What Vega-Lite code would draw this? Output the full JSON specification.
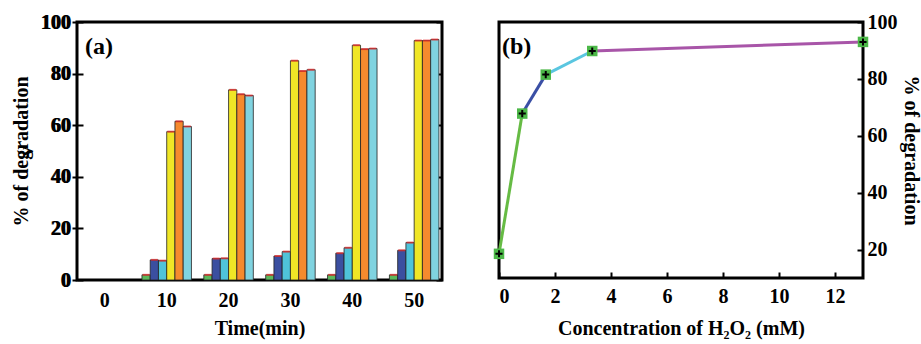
{
  "$schema": "https://vega.github.io/schema/vega-lite/v6.json",
  "padding": {"left": 9, "top": 10, "right": 0, "bottom": 0},
  "spacing": 44,
  "resolve": {"scale": {"color": "independent"}},
  "config": {
    "font": "Liberation Serif",
    "view": {"stroke": "black", "strokeWidth": 3},
    "axis": {
      "domain": false,
      "grid": false,
      "labelFont": "Liberation Serif",
      "labelFontSize": 20,
      "labelFontWeight": "bold",
      "labelColor": "black",
      "titleFont": "Liberation Serif",
      "titleFontSize": 20,
      "titleFontWeight": "bold",
      "titleColor": "black",
      "tickColor": "black",
      "tickWidth": 2
    }
  },
  "hconcat": [
    {
      "width": 365,
      "height": 258,
      "data": {
        "values": [
          {"time": "10", "sample": "s1", "deg": 2},
          {"time": "10", "sample": "s2", "deg": 7.8},
          {"time": "10", "sample": "s3", "deg": 7.5},
          {"time": "10", "sample": "s4", "deg": 57.5},
          {"time": "10", "sample": "s5", "deg": 61.5},
          {"time": "10", "sample": "s6", "deg": 59.5},
          {"time": "20", "sample": "s1", "deg": 2},
          {"time": "20", "sample": "s2", "deg": 8.3},
          {"time": "20", "sample": "s3", "deg": 8.4},
          {"time": "20", "sample": "s4", "deg": 73.7},
          {"time": "20", "sample": "s5", "deg": 72},
          {"time": "20", "sample": "s6", "deg": 71.5},
          {"time": "30", "sample": "s1", "deg": 2},
          {"time": "30", "sample": "s2", "deg": 9.3},
          {"time": "30", "sample": "s3", "deg": 11},
          {"time": "30", "sample": "s4", "deg": 85},
          {"time": "30", "sample": "s5", "deg": 81},
          {"time": "30", "sample": "s6", "deg": 81.5},
          {"time": "40", "sample": "s1", "deg": 2},
          {"time": "40", "sample": "s2", "deg": 10.4},
          {"time": "40", "sample": "s3", "deg": 12.5},
          {"time": "40", "sample": "s4", "deg": 91},
          {"time": "40", "sample": "s5", "deg": 89.5},
          {"time": "40", "sample": "s6", "deg": 89.7},
          {"time": "50", "sample": "s1", "deg": 2},
          {"time": "50", "sample": "s2", "deg": 11.5},
          {"time": "50", "sample": "s3", "deg": 14.5},
          {"time": "50", "sample": "s4", "deg": 92.8},
          {"time": "50", "sample": "s5", "deg": 92.8},
          {"time": "50", "sample": "s6", "deg": 93.2}
        ]
      },
      "layer": [
        {
          "mark": {"type": "bar", "stroke": "#222222", "strokeWidth": 0.8},
          "encoding": {
            "x": {
              "field": "time", "type": "ordinal",
              "scale": {"domain": ["0", "10", "20", "30", "40", "50"], "paddingInner": 0.2, "paddingOuter": 0.05},
              "axis": {"title": "Time(min)", "labelAngle": 0, "ticks": false, "labelPadding": 10, "titlePadding": 8}
            },
            "xOffset": {"field": "sample", "type": "nominal", "sort": ["s1", "s2", "s3", "s4", "s5", "s6"]},
            "y": {
              "field": "deg", "type": "quantitative",
              "scale": {"domain": [0, 100], "nice": false},
              "axis": {"title": "% of degradation", "values": [0, 20, 40, 60, 80, 100], "tickSize": -6, "labelPadding": 12, "titlePadding": 10}
            },
            "color": {
              "field": "sample", "type": "nominal",
              "scale": {"domain": ["s1", "s2", "s3", "s4", "s5", "s6"], "range": ["#5cb85c", "#3b4fa0", "#4fc3d9", "#f0e626", "#f58a2e", "#80d3e0"]},
              "legend": null
            }
          }
        },
        {
          "mark": {"type": "tick", "color": "#e8282a", "thickness": 2, "size": 7},
          "encoding": {
            "x": {"field": "time", "type": "ordinal", "scale": {"domain": ["0", "10", "20", "30", "40", "50"], "paddingInner": 0.2, "paddingOuter": 0.05}},
            "xOffset": {"field": "sample", "type": "nominal", "sort": ["s1", "s2", "s3", "s4", "s5", "s6"]},
            "y": {
              "field": "deg", "type": "quantitative",
              "scale": {"domain": [0, 100], "nice": false},
              "axis": {"orient": "right", "title": null, "labels": false, "values": [0, 20, 40, 60, 80, 100], "tickSize": -6}
            }
          }
        },
        {
          "data": {"values": [{"label": "(a)", "t": "0", "v": 90.5}]},
          "mark": {"type": "text", "align": "left", "baseline": "middle", "dx": 5, "fontSize": 24, "fontWeight": "bold", "font": "Liberation Serif", "color": "black"},
          "encoding": {
            "x": {"field": "t", "type": "ordinal", "bandPosition": 0},
            "y": {"field": "v", "type": "quantitative"},
            "text": {"field": "label"}
          }
        }
      ],
      "resolve": {"scale": {"y": "independent"}}
    },
    {
      "width": 364,
      "height": 256,
      "layer": [
        {
          "data": {
            "values": [
              {"seg": "g1", "x0": 0, "y0": 18.5, "x1": 0.83, "y1": 67.8},
              {"seg": "g2", "x0": 0.83, "y0": 67.8, "x1": 1.67, "y1": 81.5},
              {"seg": "g3", "x0": 1.67, "y0": 81.5, "x1": 3.33, "y1": 89.8},
              {"seg": "g4", "x0": 3.33, "y0": 89.8, "x1": 13, "y1": 93}
            ]
          },
          "mark": {"type": "rule", "strokeWidth": 3},
          "encoding": {
            "x": {
              "field": "x0", "type": "quantitative",
              "scale": {"domain": [0, 13], "nice": false},
              "axis": {"title": "Concentration of H₂O₂ (mM)", "values": [0, 2, 4, 6, 8, 10, 12], "tickSize": -6, "labelPadding": 14, "titlePadding": 12}
            },
            "x2": {"field": "x1"},
            "y": {
              "field": "y0", "type": "quantitative",
              "scale": {"domain": [10, 100], "nice": false},
              "axis": {"orient": "right", "title": "% of degradation", "titleAngle": 90, "values": [20, 40, 60, 80, 100], "tickSize": -6, "labelPadding": 10, "titlePadding": 3}
            },
            "y2": {"field": "y1"},
            "color": {
              "field": "seg", "type": "nominal",
              "scale": {"domain": ["g1", "g2", "g3", "g4"], "range": ["#66bb44", "#3a4fa5", "#5ac6e0", "#a855a8"]},
              "legend": null
            }
          }
        },
        {
          "data": {
            "values": [
              {"c": 0, "d": 18.5},
              {"c": 0.83, "d": 67.8},
              {"c": 1.67, "d": 81.5},
              {"c": 3.33, "d": 89.8},
              {"c": 13, "d": 93}
            ]
          },
          "layer": [
            {
              "mark": {"type": "square", "filled": true, "color": "#4cb848", "size": 110, "opacity": 1},
              "encoding": {
                "x": {"field": "c", "type": "quantitative"},
                "y": {"field": "d", "type": "quantitative"}
              }
            },
            {
              "mark": {"type": "point", "shape": "M-1,0L1,0M0,-1L0,1", "filled": false, "stroke": "black", "strokeWidth": 2, "size": 50, "opacity": 1},
              "encoding": {
                "x": {"field": "c", "type": "quantitative"},
                "y": {"field": "d", "type": "quantitative"}
              }
            }
          ]
        },
        {
          "data": {"values": [{"label": "(b)", "c": 0, "d": 91.2}]},
          "mark": {"type": "text", "align": "left", "baseline": "middle", "dx": 3, "fontSize": 24, "fontWeight": "bold", "font": "Liberation Serif", "color": "black"},
          "encoding": {
            "x": {"field": "c", "type": "quantitative"},
            "y": {"field": "d", "type": "quantitative"},
            "text": {"field": "label"}
          }
        }
      ]
    }
  ]
}
